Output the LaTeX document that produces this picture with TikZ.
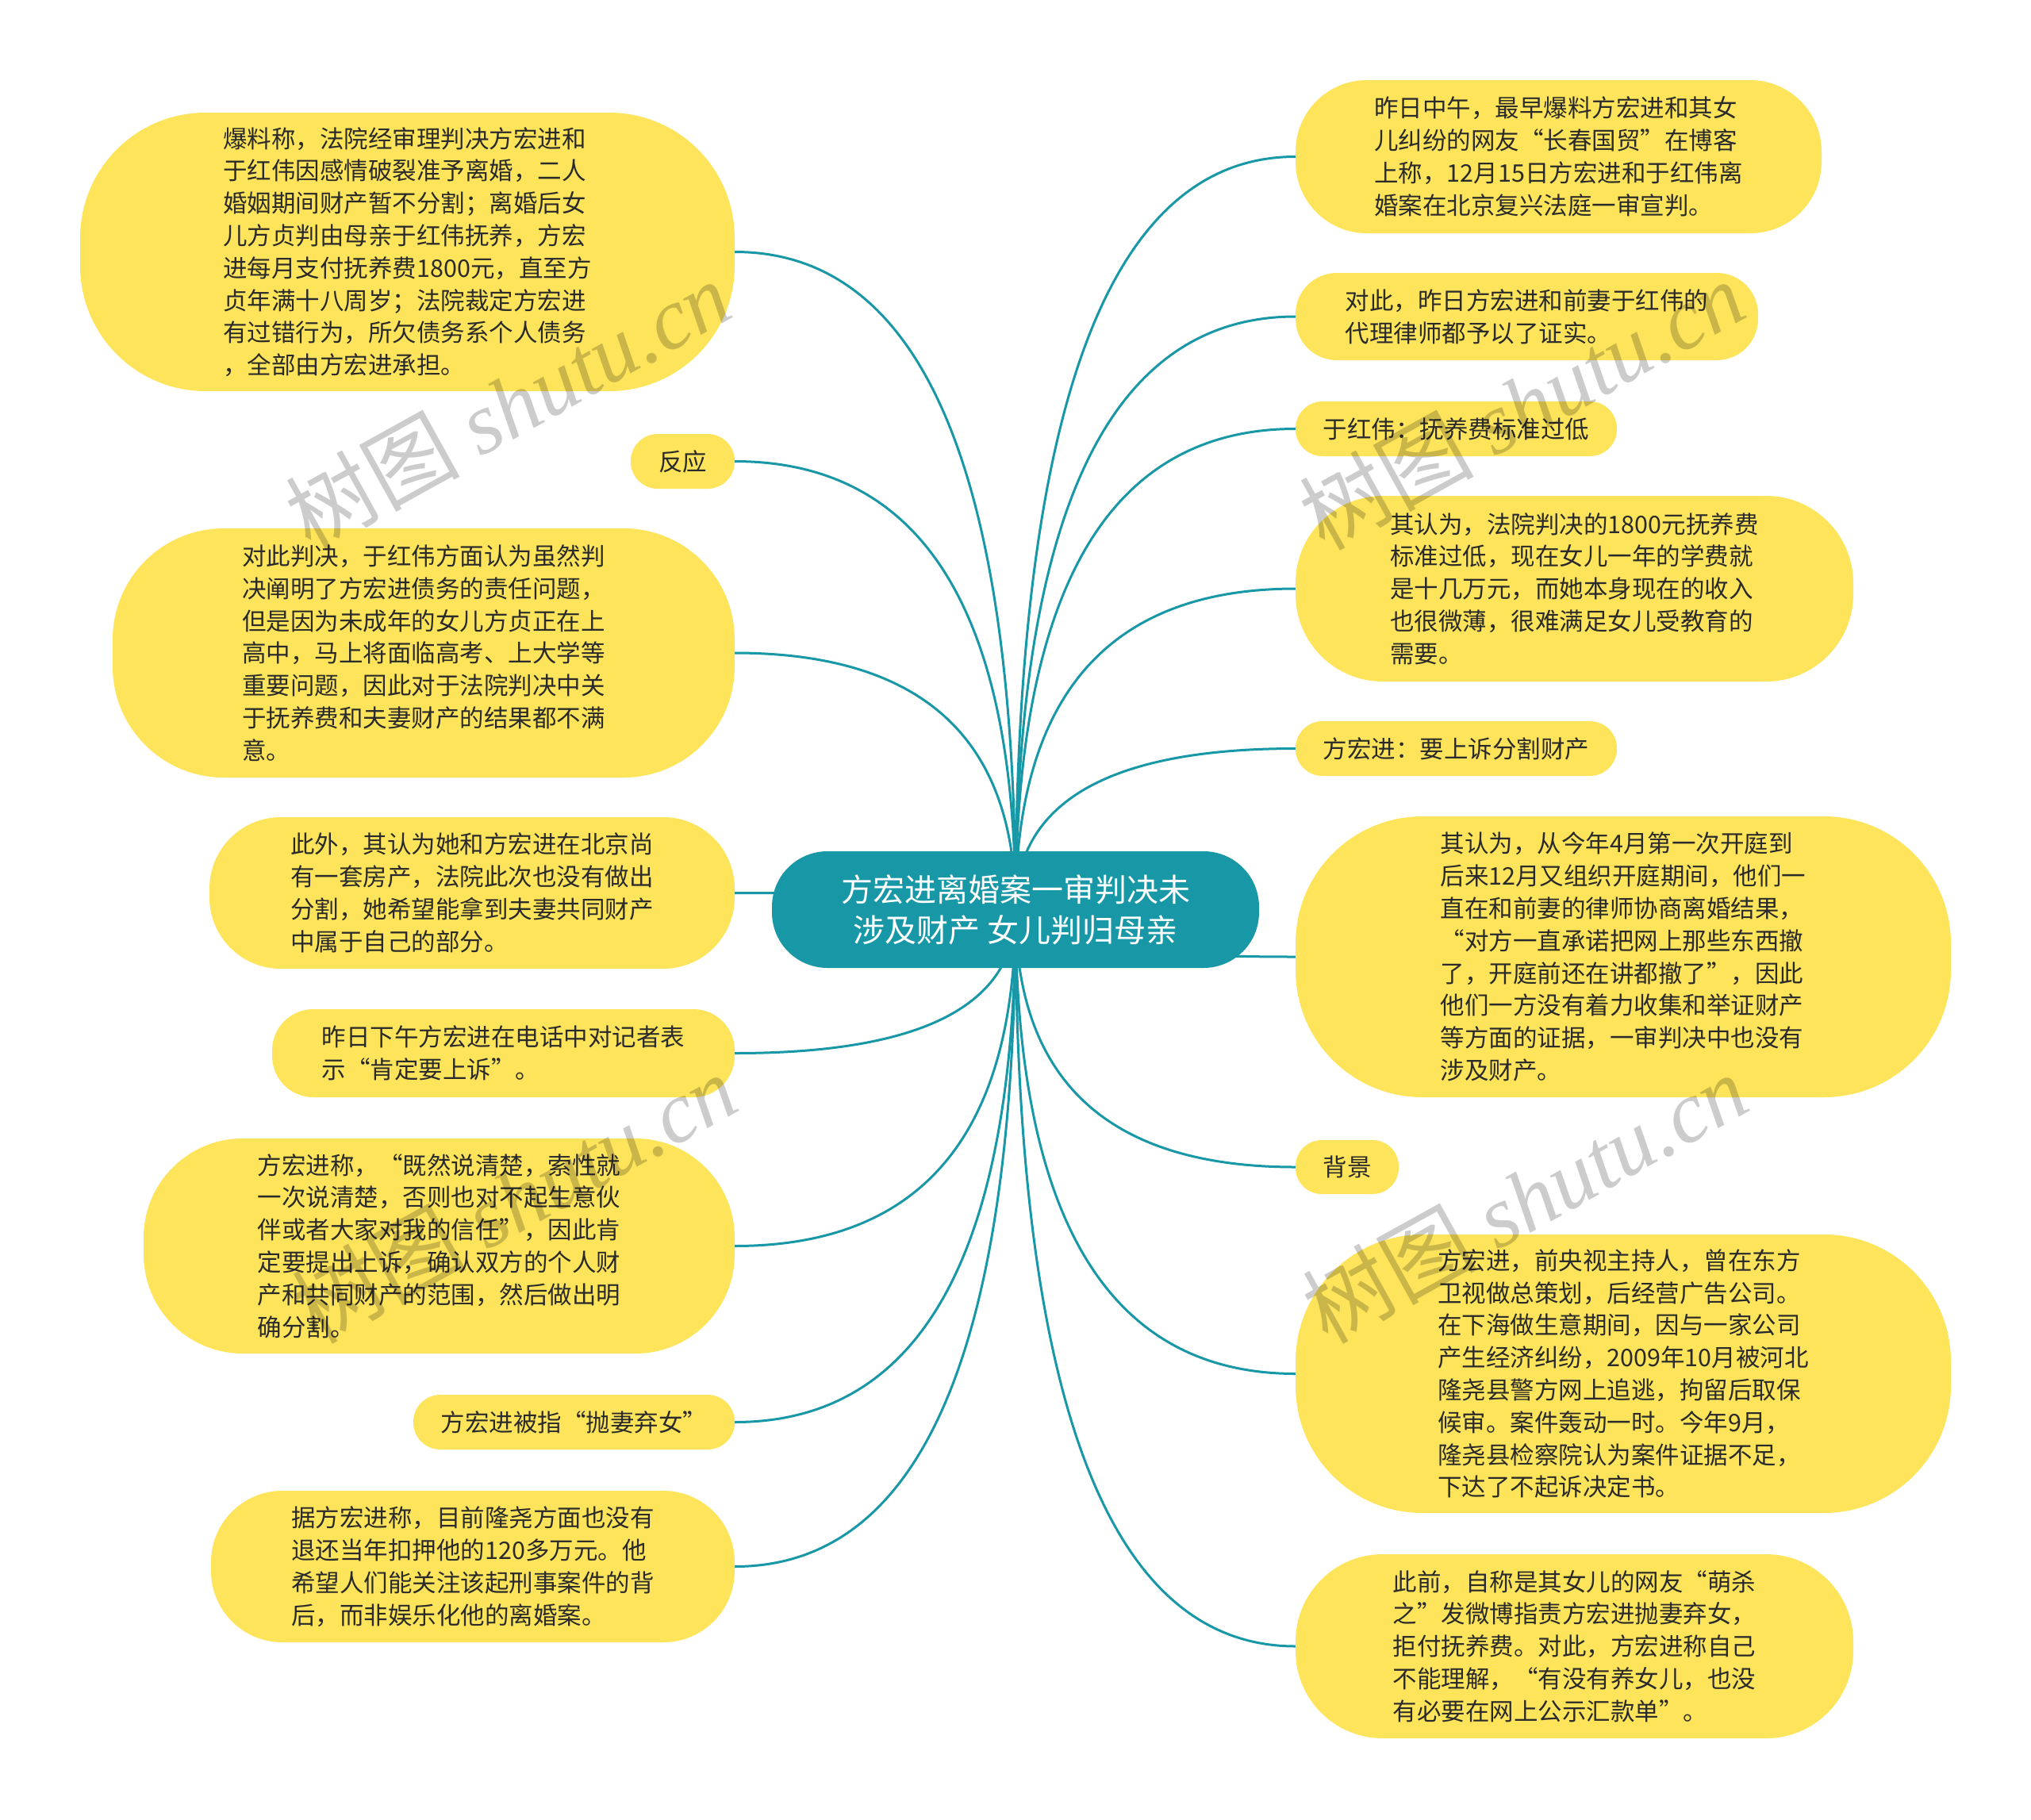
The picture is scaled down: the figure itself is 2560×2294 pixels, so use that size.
\documentclass[tikz,border=0pt]{standalone}
\usepackage{fontspec}
\setmainfont{Noto Sans CJK SC}
\newfontfamily\wmserif{Liberation Serif}
\usetikzlibrary{calc}
\pgfdeclarelayer{bottom}
\pgfdeclarelayer{bg}
\pgfdeclarelayer{fg}
\pgfsetlayers{bottom,bg,main,fg}
\definecolor{teal1}{HTML}{1898A6}
\definecolor{yel}{HTML}{FDE45A}
\definecolor{txt}{HTML}{2A2A2A}
\newcommand\linkL[1]{\draw[conn] (hub.center) .. controls ($(hub.center)!0.667!(hub.center|-#1.east)$) and ($(#1.east)!0.667!(hub.center|-#1.east)$) .. (#1.east);}
\newcommand\linkR[1]{\draw[conn] (hub.center) .. controls ($(hub.center)!0.667!(hub.center|-#1.west)$) and ($(#1.west)!0.667!(hub.center|-#1.west)$) .. (#1.west);}
\begin{document}
\begin{tikzpicture}[x=1pt,y=-1pt,
  box/.style={fill=yel, text=txt, align=left, inner sep=0pt, font=\fontsize{30.5}{40.8}\selectfont},
  hub/.style={fill=teal1, text=white, align=center, inner sep=0pt, font=\fontsize{40}{51}\selectfont},
  conn/.style={draw=teal1, line width=3pt},
  wm/.style={text=black, text opacity=0.2, rotate=29, font=\fontsize{110}{115}\selectfont}]
\begin{pgfonlayer}{bottom}
\path[use as bounding box, fill=white] (0,0) rectangle (2560,2294);
\end{pgfonlayer}

% central node
\node[hub, minimum width=614, minimum height=147, rounded corners=70] (hub) at (1280,1146.5) {方宏进离婚案一审判决未\\涉及财产 女儿判归母亲};

% left nodes
\node[box, minimum width=825, minimum height=351, rounded corners=158] (L1) at (513.5,317.5) {爆料称，法院经审理判决方宏进和\\于红伟因感情破裂准予离婚，二人\\婚姻期间财产暂不分割；离婚后女\\儿方贞判由母亲于红伟抚养，方宏\\进每月支付抚养费1800元，直至方\\贞年满十八周岁；法院裁定方宏进\\有过错行为，所欠债务系个人债务\\，全部由方宏进承担。};
\node[box, minimum width=131, minimum height=69, rounded corners=34] (L2) at (860.5,581.5) {反应};
\node[box, minimum width=784, minimum height=314, rounded corners=140] (L3) at (534,823) {对此判决，于红伟方面认为虽然判\\决阐明了方宏进债务的责任问题，\\但是因为未成年的女儿方贞正在上\\高中，马上将面临高考、上大学等\\重要问题，因此对于法院判决中关\\于抚养费和夫妻财产的结果都不满\\意。};
\node[box, minimum width=662, minimum height=191, rounded corners=90] (L4) at (595,1125.5) {此外，其认为她和方宏进在北京尚\\有一套房产，法院此次也没有做出\\分割，她希望能拿到夫妻共同财产\\中属于自己的部分。};
\node[box, minimum width=583, minimum height=111, rounded corners=52] (L5) at (634.5,1327.5) {昨日下午方宏进在电话中对记者表\\示“肯定要上诉”。};
\node[box, minimum width=745, minimum height=271, rounded corners=125] (L6) at (553.5,1570.5) {方宏进称，“既然说清楚，索性就\\一次说清楚，否则也对不起生意伙\\伴或者大家对我的信任”，因此肯\\定要提出上诉，确认双方的个人财\\产和共同财产的范围，然后做出明\\确分割。};
\node[box, minimum width=405, minimum height=69, rounded corners=34] (L7) at (723.5,1792.5) {方宏进被指“抛妻弃女”};
\node[box, minimum width=660, minimum height=191, rounded corners=90] (L8) at (596,1974.5) {据方宏进称，目前隆尧方面也没有\\退还当年扣押他的120多万元。他\\希望人们能关注该起刑事案件的背\\后，而非娱乐化他的离婚案。};

% right nodes
\node[box, minimum width=663, minimum height=193, rounded corners=90] (R1) at (1964.5,197.5) {昨日中午，最早爆料方宏进和其女\\儿纠纷的网友“长春国贸”在博客\\上称，12月15日方宏进和于红伟离\\婚案在北京复兴法庭一审宣判。};
\node[box, minimum width=583, minimum height=110, rounded corners=52] (R2) at (1924.5,399) {对此，昨日方宏进和前妻于红伟的\\代理律师都予以了证实。};
\node[box, minimum width=405, minimum height=69, rounded corners=34] (R3) at (1835.5,540.5) {于红伟：抚养费标准过低};
\node[box, minimum width=703, minimum height=234, rounded corners=110] (R4) at (1984.5,742) {其认为，法院判决的1800元抚养费\\标准过低，现在女儿一年的学费就\\是十几万元，而她本身现在的收入\\也很微薄，很难满足女儿受教育的\\需要。};
\node[box, minimum width=405, minimum height=69, rounded corners=34] (R5) at (1835.5,943.5) {方宏进：要上诉分割财产};
\node[box, minimum width=826, minimum height=354, rounded corners=160] (R6) at (2046,1206) {其认为，从今年4月第一次开庭到\\后来12月又组织开庭期间，他们一\\直在和前妻的律师协商离婚结果，\\“对方一直承诺把网上那些东西撤\\了，开庭前还在讲都撤了”，因此\\他们一方没有着力收集和举证财产\\等方面的证据，一审判决中也没有\\涉及财产。};
\node[box, minimum width=130, minimum height=68, rounded corners=33] (R7) at (1698,1471) {背景};
\node[box, minimum width=826, minimum height=351, rounded corners=160] (R8) at (2046,1731.5) {方宏进，前央视主持人，曾在东方\\卫视做总策划，后经营广告公司。\\在下海做生意期间，因与一家公司\\产生经济纠纷，2009年10月被河北\\隆尧县警方网上追逃，拘留后取保\\候审。案件轰动一时。今年9月，\\隆尧县检察院认为案件证据不足，\\下达了不起诉决定书。};
\node[box, minimum width=703, minimum height=232, rounded corners=110] (R9) at (1984.5,2075) {此前，自称是其女儿的网友“萌杀\\之”发微博指责方宏进抛妻弃女，\\拒付抚养费。对此，方宏进称自己\\不能理解，“有没有养女儿，也没\\有必要在网上公示汇款单”。};

\begin{pgfonlayer}{bg}
\linkL{L1}\linkL{L2}\linkL{L3}\linkL{L4}\linkL{L5}\linkL{L6}\linkL{L7}\linkL{L8}
\linkR{R1}\linkR{R2}\linkR{R3}\linkR{R4}\linkR{R5}\linkR{R6}\linkR{R7}\linkR{R8}\linkR{R9}
\end{pgfonlayer}

\begin{pgfonlayer}{fg}
\node[wm] (w1) at (640,510) {树图 {\wmserif\itshape shutu.cn}};
\node[wm] (w2) at (1918,510) {树图 {\wmserif\itshape shutu.cn}};
\node[wm] (w3) at (648,1510) {树图 {\wmserif\itshape shutu.cn}};
\node[wm] (w4) at (1922,1510) {树图 {\wmserif\itshape shutu.cn}};
\end{pgfonlayer}
\end{tikzpicture}
\end{document}
